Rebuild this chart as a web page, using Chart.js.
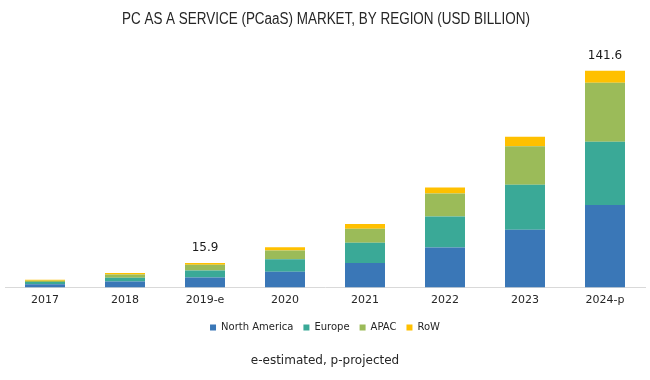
<!DOCTYPE html>
<html><head><meta charset="utf-8">
<script src="https://cdn.jsdelivr.net/npm/chart.js@4"></script>
<style>html,body{margin:0;padding:0;background:#fff}#wrap{width:650px;height:380px}</style>
</head><body><div id="wrap"><canvas id="c" width="650" height="380"></canvas></div>
<script>
const categories = ["2017","2018","2019-e","2020","2021","2022","2023","2024-p"];
const northAmerica = [2.0, 3.9, 6.5, 10.3, 15.9, 26.0, 37.6, 53.8];
const europe       = [1.5, 2.4, 4.6, 8.1, 13.3, 20.3, 29.5, 41.4];
const apac         = [0.9, 2.2, 3.7, 5.7, 9.2, 15.1, 25.1, 38.6];
const row          = [0.6, 0.9, 1.1, 2.2, 3.1, 3.9, 6.2, 7.8];
const shownTotals  = [null, null, 15.9, null, null, null, null, 141.6];
const titleText = 'PC AS A SERVICE (PCaaS) MARKET, BY REGION (USD BILLION)';

const totalLabels = {
  id: 'totalLabels',
  afterDatasetsDraw(chart) {
    const ctx = chart.ctx, x = chart.scales.x, y = chart.scales.y;
    ctx.save();
    ctx.font = '12px "DejaVu Sans"';
    ctx.fillStyle = '#1a1a1a';
    ctx.textAlign = 'center';
    ctx.textBaseline = 'middle';
    shownTotals.forEach((t, i) => {
      if (t == null) return;
      ctx.fillText(t.toFixed(1), x.getPixelForValue(i), y.getPixelForValue(t) - 15);
    });
    ctx.restore();
  }
};

const narrowTitle = {
  id: 'narrowTitle',
  afterDraw(chart) {
    const ctx = chart.ctx;
    ctx.save();
    ctx.font = '16px "Liberation Sans Narrow", "Liberation Sans"';
    ctx.fillStyle = '#262626';
    ctx.textAlign = 'center';
    ctx.textBaseline = 'middle';
    const w = ctx.measureText(titleText).width;
    const sx = Math.min(1, 408 / w);
    ctx.translate(326, 20);
    ctx.scale(sx, 1);
    ctx.fillText(titleText, 0, 0);
    ctx.restore();
  }
};

new Chart(document.getElementById('c'), {
  type: 'bar',
  data: {
    labels: categories,
    datasets: [
      {label: 'North America', data: northAmerica, backgroundColor: '#3a77b7'},
      {label: 'Europe', data: europe, backgroundColor: '#3aa997'},
      {label: 'APAC', data: apac, backgroundColor: '#9bbb59'},
      {label: 'RoW', data: row, backgroundColor: '#ffc000'}
    ]
  },
  options: {
    responsive: false,
    animation: false,
    devicePixelRatio: 1,
    layout: {padding: {left: 5, right: 5, top: 38, bottom: 4}},
    datasets: {bar: {barPercentage: 0.5, categoryPercentage: 1.0}},
    scales: {
      x: {
        stacked: true,
        grid: {display: false, drawTicks: false},
        border: {display: true, color: '#d9d9d9'},
        ticks: {font: {family: 'DejaVu Sans', size: 11}, color: '#262626', padding: 6}
      },
      y: {stacked: true, display: false, min: 0, max: 163}
    },
    plugins: {
      title: {display: false},
      subtitle: {
        display: true,
        position: 'bottom',
        text: 'e-estimated, p-projected',
        font: {family: 'DejaVu Sans', size: 12},
        color: '#262626',
        padding: {top: 11, bottom: 8}
      },
      legend: {
        position: 'bottom',
        labels: {
          font: {family: 'DejaVu Sans', size: 10},
          color: '#262626',
          usePointStyle: true,
          pointStyle: 'rect',
          boxWidth: 6,
          boxHeight: 6,
          padding: 10
        }
      },
      tooltip: {enabled: false}
    }
  },
  plugins: [totalLabels, narrowTitle]
});
</script></body></html>
